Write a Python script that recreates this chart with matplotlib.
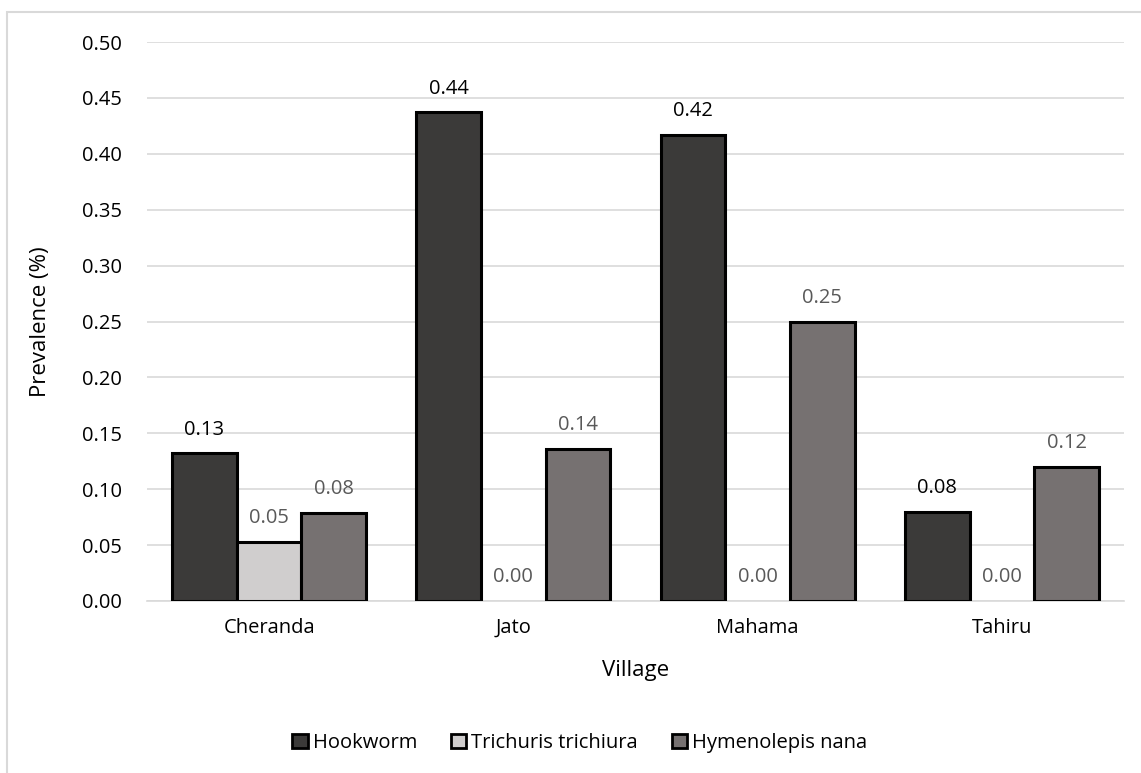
import matplotlib
matplotlib.use("Agg")
import matplotlib.pyplot as plt
from matplotlib.patches import Rectangle
import numpy as np

villages = ["Cheranda", "Jato", "Mahama", "Tahiru"]
series_names = ["Hookworm", "Trichuris trichiura", "Hymenolepis nana"]
hookworm = [0.132, 0.437, 0.417, 0.080]
trichuris = [0.053, 0.0, 0.0, 0.0]
hymenolepis = [0.079, 0.136, 0.250, 0.120]
yticks = [0.00, 0.05, 0.10, 0.15, 0.20, 0.25, 0.30, 0.35, 0.40, 0.45, 0.50]

colors = ["#3b3a39", "#d0cece", "#767171"]
label_colors = ["#000000", "#595959", "#595959"]

plt.rcParams["font.family"] = ["Open Sans", "DejaVu Sans"]

fig = plt.figure(figsize=(11.41, 7.73), dpi=100)
# outer chart frame
fig.patches.append(Rectangle((7 / 1141, -0.1), 1.2, 1.1 - 12 / 773,
                             transform=fig.transFigure, fill=False,
                             edgecolor="#d9d9d9", linewidth=1.5, zorder=0))

ax = fig.add_axes([147 / 1141, 1 - 601 / 773, (1124 - 147) / 1141, (601 - 42) / 773])

x = np.arange(len(villages))
width = 0.265
offsets = [-width, 0, width]
all_series = [hookworm, trichuris, hymenolepis]

for vals, off, col, lc, name in zip(all_series, offsets, colors, label_colors, series_names):
    lws = [2.2 if v > 0 else 0 for v in vals]
    ax.bar(x + off, vals, width, color=col, edgecolor="black",
           linewidth=lws, label=name, zorder=3)
    for xi, v in zip(x + off, vals):
        ax.annotate(f"{v:.2f}", (xi, v), xytext=(0, 10), textcoords="offset points",
                    ha="center", va="bottom", fontsize=14.5, color=lc, zorder=4)

ax.set_ylim(0, 0.5)
ax.set_xlim(-0.5, len(villages) - 0.5)
ax.set_yticks(yticks)
ax.set_yticklabels([f"{t:.2f}" for t in yticks], fontsize=14.5)
ax.set_xticks(x)
ax.set_xticklabels(villages, fontsize=14.5)
ax.tick_params(axis="both", length=0, colors="black")
ax.tick_params(axis="y", pad=18)
ax.tick_params(axis="x", pad=12)
ax.yaxis.grid(True, color="#d9d9d9", linewidth=1.2, zorder=0)
ax.set_axisbelow(True)
for s in ["top", "right", "left"]:
    ax.spines[s].set_visible(False)
ax.spines["bottom"].set_color("#d9d9d9")
ax.spines["bottom"].set_linewidth(1.2)

ax.set_xlabel("Village", fontsize=16, labelpad=16)
ax.set_ylabel("Prevalence (%)", fontsize=16, labelpad=22)

handles, labels = ax.get_legend_handles_labels()
leg = fig.legend(handles, labels, loc="center", bbox_to_anchor=(580 / 1141, 1 - 743 / 773),
                 ncol=3, frameon=False, fontsize=14.5, handlelength=0.75, handleheight=0.75,
                 handletextpad=0.25, columnspacing=1.7)
for h in leg.legend_handles:
    h.set_linewidth(2.0)

fig.savefig("out.png", dpi=100)
